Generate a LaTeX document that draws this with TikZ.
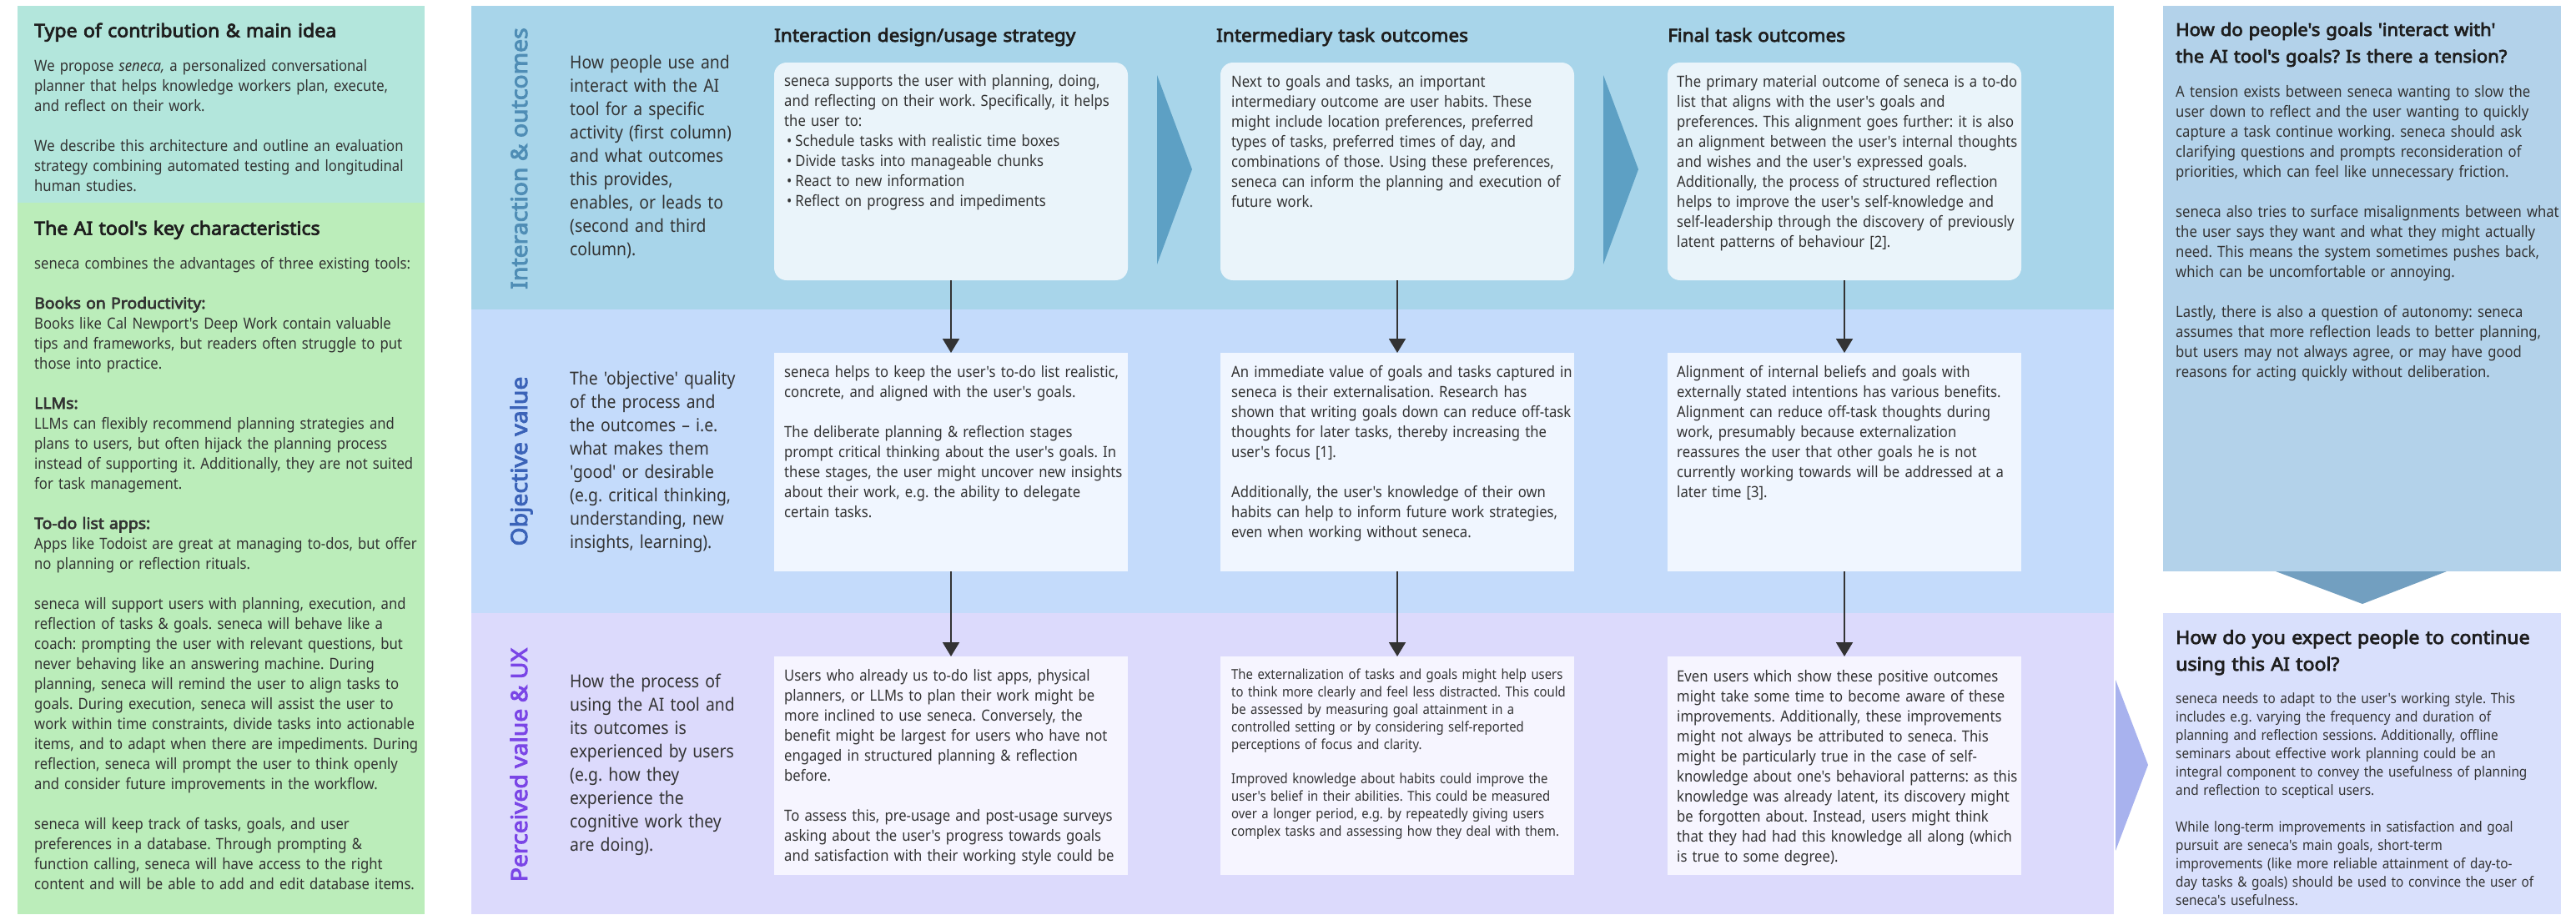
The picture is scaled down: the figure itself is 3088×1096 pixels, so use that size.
\documentclass[tikz,border=0pt]{standalone}
\usepackage{fontspec}
\usetikzlibrary{arrows.meta}
\newfontfamily\nf{Noto Sans}[FakeStretch=0.9]
\newfontfamily\nfb{Noto Sans}[FakeStretch=1.05,FakeBold=3.5]
\newcommand{\myfs}[2]{\nf\fontsize{#1}{#2}\selectfont}
\newcommand{\mybfs}[2]{\nfb\fontsize{#1}{#2}\selectfont}
\newcommand{\tb}[1]{{\nfb #1}}
\definecolor{teal1}{HTML}{B3E6DC}
\definecolor{green1}{HTML}{BBEDBA}
\definecolor{rowAc}{HTML}{A8D5EA}
\definecolor{rowBc}{HTML}{C4DBFB}
\definecolor{rowCc}{HTML}{DCDAFC}
\definecolor{boxA}{HTML}{EAF4FA}
\definecolor{boxB}{HTML}{F0F6FF}
\definecolor{boxC}{HTML}{F6F5FF}
\definecolor{chevA}{HTML}{5DA0C4}
\definecolor{chevC}{HTML}{A8B2EE}
\definecolor{rtop}{HTML}{B3D2EA}
\definecolor{chevR}{HTML}{729FC0}
\definecolor{rbot}{HTML}{D9E0FC}
\definecolor{labA}{HTML}{4F8DB5}
\definecolor{labB}{HTML}{3B63B8}
\definecolor{labC}{HTML}{7A45E6}
\definecolor{ink}{HTML}{1E1E1E}
\definecolor{txt}{HTML}{333333}
\frenchspacing
\begin{document}
\frenchspacing
\begin{tikzpicture}[x=1pt,y=-1pt,
  panel/.style={inner sep=0pt,outer sep=0pt,anchor=north west,draw=none},
  tbox/.style={panel,minimum width=424pt,minimum height=262pt},
  body/.style={anchor=base west,inner sep=0pt,align=left,text width=620pt,text=txt,font=\myfs{18.5}{24}\frenchspacing},
  desc/.style={body,font=\myfs{21.5}{28}\frenchspacing},
  small/.style={body,font=\myfs{16.5}{21}\frenchspacing},
  rbody/.style={body,font=\myfs{17}{22}\frenchspacing},
  head/.style={anchor=base west,inner sep=0pt,align=left,text width=620pt,text=ink,font=\mybfs{22}{32}\frenchspacing},
  colhead/.style={head,font=\mybfs{21.5}{30}},
  rowlab/.style={rotate=90,anchor=base,inner sep=0pt,font=\mybfs{27}{30}},
  arr/.style={draw=txt,line width=2pt,-{Triangle[length=17pt,width=20pt]}}
]
\useasboundingbox (0,0) rectangle (3088,1096);
\fill[white] (0,0) rectangle (3088,1096);

% ---------- left column ----------
\node[panel,fill=teal1,minimum width=488pt,minimum height=236pt] (ptype) at (21,7) {};
\node[panel,fill=green1,minimum width=488pt,minimum height=853pt] (pkey) at (21,243) {};

\node[head] (htype) at (41,44.5) {Type of contribution \& main idea};
\node[body] (ttype) at (41,85) {We propose \textit{seneca,} a personalized conversational\\
planner that helps knowledge workers plan, execute,\\
and reflect on their work.\\[24pt]
We describe this architecture and outline an evaluation\\
strategy combining automated testing and longitudinal\\
human studies.};

\node[head] (hkey) at (41,281.5) {The AI tool's key characteristics};
\node[body] (tkey) at (41,322) {seneca combines the advantages of three existing tools:\\[24pt]
\tb{Books on Productivity:}\\
Books like Cal Newport's Deep Work contain valuable\\
tips and frameworks, but readers often struggle to put\\
those into practice.\\[24pt]
\tb{LLMs:}\\
LLMs can flexibly recommend planning strategies and\\
plans to users, but often hijack the planning process\\
instead of supporting it. Additionally, they are not suited\\
for task management.\\[24pt]
\tb{To-do list apps:}\\
Apps like Todoist are great at managing to-dos, but offer\\
no planning or reflection rituals.\\[24pt]
seneca will support users with planning, execution, and\\
reflection of tasks \& goals. seneca will behave like a\\
coach: prompting the user with relevant questions, but\\
never behaving like an answering machine. During\\
planning, seneca will remind the user to align tasks to\\
goals. During execution, seneca will assist the user to\\
work within time constraints, divide tasks into actionable\\
items, and to adapt when there are impediments. During\\
reflection, seneca will prompt the user to think openly\\
and consider future improvements in the workflow.\\[24pt]
seneca will keep track of tasks, goals, and user\\
preferences in a database. Through prompting \&\\
function calling, seneca will have access to the right\\
content and will be able to add and edit database items.};

% ---------- middle rows ----------
\node[panel,fill=rowAc,minimum width=1969pt,minimum height=364pt] (rowA) at (565,7) {};
\node[panel,fill=rowBc,minimum width=1969pt,minimum height=364pt] (rowB) at (565,371) {};
\node[panel,fill=rowCc,minimum width=1969pt,minimum height=361pt] (rowC) at (565,735) {};

\node[rowlab,text=labA] (labA) at (632,190) {Interaction \& outcomes};
\node[rowlab,text=labB] (labB) at (632,553) {Objective value};
\node[rowlab,text=labC] (labC) at (632,917) {Perceived value \& UX};

\node[desc] (dA) at (683,82) {How people use and\\ interact with the AI\\ tool for a specific\\ activity (first column)\\ and what outcomes\\ this provides,\\ enables, or leads to\\ (second and third\\ column).};
\node[desc] (dB) at (683,461) {The 'objective' quality\\ of the process and\\ the outcomes – i.e.\\ what makes them\\ 'good' or desirable\\ (e.g. critical thinking,\\ understanding, new\\ insights, learning).};
\node[desc] (dC) at (683,824) {How the process of\\ using the AI tool and\\ its outcomes is\\ experienced by users\\ (e.g. how they\\ experience the\\ cognitive work they\\ are doing).};

\node[colhead] (c1) at (928,50) {Interaction design/usage strategy};
\node[colhead] (c2) at (1458,50) {Intermediary task outcomes};
\node[colhead] (c3) at (1999,50) {Final task outcomes};

% chevrons
\fill[chevA] (1387,90) -- (1429,203) -- (1387,317) -- cycle;
\fill[chevA] (1922,90) -- (1964,203) -- (1922,317) -- cycle;
\fill[chevC] (2536,815) -- (2575,917) -- (2536,1020) -- cycle;

% boxes
\node[tbox,fill=boxA,rounded corners=15pt,minimum height=261pt] (b11) at (928,75) {};
\node[tbox,fill=boxA,rounded corners=15pt,minimum height=261pt] (b12) at (1463,75) {};
\node[tbox,fill=boxA,rounded corners=15pt,minimum height=261pt] (b13) at (1999,75) {};
\node[tbox,fill=boxB] (b21) at (928,423) {};
\node[tbox,fill=boxB] (b22) at (1463,423) {};
\node[tbox,fill=boxB] (b23) at (1999,423) {};
\node[tbox,fill=boxC] (b31) at (928,787) {};
\node[tbox,fill=boxC] (b32) at (1463,787) {};
\node[tbox,fill=boxC] (b33) at (1999,787) {};

\draw[arr] (b11.south) -- (b21.north);
\draw[arr] (b12.south) -- (b22.north);
\draw[arr] (b13.south) -- (b23.north);
\draw[arr] (b21.south) -- (b31.north);
\draw[arr] (b22.south) -- (b32.north);
\draw[arr] (b23.south) -- (b33.north);

\node[body] (t11) at (940,103) {seneca supports the user with planning, doing,\\
and reflecting on their work. Specifically, it helps\\
the user to:\\
\hspace{3pt}•\hspace{4pt}Schedule tasks with realistic time boxes\\
\hspace{3pt}•\hspace{4pt}Divide tasks into manageable chunks\\
\hspace{3pt}•\hspace{4pt}React to new information\\
\hspace{3pt}•\hspace{4pt}Reflect on progress and impediments};

\node[body] (t12) at (1476,104) {Next to goals and tasks, an important\\
intermediary outcome are user habits. These\\
might include location preferences, preferred\\
types of tasks, preferred times of day, and\\
combinations of those. Using these preferences,\\
seneca can inform the planning and execution of\\
future work.};

\node[body] (t13) at (2010,104) {The primary material outcome of seneca is a to-do\\
list that aligns with the user's goals and\\
preferences. This alignment goes further: it is also\\
an alignment between the user's internal thoughts\\
and wishes and the user's expressed goals.\\
Additionally, the process of structured reflection\\
helps to improve the user's self-knowledge and\\
self-leadership through the discovery of previously\\
latent patterns of behaviour [2].};

\node[body] (t21) at (940,452) {seneca helps to keep the user's to-do list realistic,\\
concrete, and aligned with the user's goals.\\[24pt]
The deliberate planning \& reflection stages\\
prompt critical thinking about the user's goals. In\\
these stages, the user might uncover new insights\\
about their work, e.g. the ability to delegate\\
certain tasks.};

\node[body] (t22) at (1476,452) {An immediate value of goals and tasks captured in\\
seneca is their externalisation. Research has\\
shown that writing goals down can reduce off-task\\
thoughts for later tasks, thereby increasing the\\
user's focus [1].\\[24pt]
Additionally, the user's knowledge of their own\\
habits can help to inform future work strategies,\\
even when working without seneca.};

\node[body] (t23) at (2010,452) {Alignment of internal beliefs and goals with\\
externally stated intentions has various benefits.\\
Alignment can reduce off-task thoughts during\\
work, presumably because externalization\\
reassures the user that other goals he is not\\
currently working towards will be addressed at a\\
later time [3].};

\node[body] (t31) at (940,816) {Users who already us to-do list apps, physical\\
planners, or LLMs to plan their work might be\\
more inclined to use seneca. Conversely, the\\
benefit might be largest for users who have not\\
engaged in structured planning \& reflection\\
before.\\[24pt]
To assess this, pre-usage and post-usage surveys\\
asking about the user's progress towards goals\\
and satisfaction with their working style could be};

\node[small] (t32) at (1476,814) {The externalization of tasks and goals might help users\\
to think more clearly and feel less distracted. This could\\
be assessed by measuring goal attainment in a\\
controlled setting or by considering self-reported\\
perceptions of focus and clarity.\\[20pt]
Improved knowledge about habits could improve the\\
user's belief in their abilities. This could be measured\\
over a longer period, e.g. by repeatedly giving users\\
complex tasks and assessing how they deal with them.};

\node[body] (t33) at (2010,817) {Even users which show these positive outcomes\\
might take some time to become aware of these\\
improvements. Additionally, these improvements\\
might not always be attributed to seneca. This\\
might be particularly true in the case of self-\\
knowledge about one's behavioral patterns: as this\\
knowledge was already latent, its discovery might\\
be forgotten about. Instead, users might think\\
that they had had this knowledge all along (which\\
is true to some degree).};

% ---------- right column ----------
\node[panel,fill=rtop,minimum width=477pt,minimum height=678pt] (ptension) at (2593,7) {};
\node[panel,fill=rbot,minimum width=477pt,minimum height=361pt] (pcontinue) at (2593,735) {};
\fill[chevR] (2728,685) -- (2933,685) -- (2832,724) -- cycle;

\node[head,font=\mybfs{21}{32}] (htension) at (2608,43) {How do people's goals 'interact with'\\ the AI tool's goals? Is there a tension?};
\node[body] (ttension) at (2608,116) {A tension exists between seneca wanting to slow the\\
user down to reflect and the user wanting to quickly\\
capture a task continue working. seneca should ask\\
clarifying questions and prompts reconsideration of\\
priorities, which can feel like unnecessary friction.\\[24pt]
seneca also tries to surface misalignments between what\\
the user says they want and what they might actually\\
need. This means the system sometimes pushes back,\\
which can be uncomfortable or annoying.\\[24pt]
Lastly, there is also a question of autonomy: seneca\\
assumes that more reflection leads to better planning,\\
but users may not always agree, or may have good\\
reasons for acting quickly without deliberation.};

\node[head] (hcontinue) at (2608,772) {How do you expect people to continue\\ using this AI tool?};
\node[rbody] (tcontinue) at (2608,843) {seneca needs to adapt to the user's working style. This\\
includes e.g. varying the frequency and duration of\\
planning and reflection sessions. Additionally, offline\\
seminars about effective work planning could be an\\
integral component to convey the usefulness of planning\\
and reflection to sceptical users.\\[22pt]
While long-term improvements in satisfaction and goal\\
pursuit are seneca's main goals, short-term\\
improvements (like more reliable attainment of day-to-\\
day tasks \& goals) should be used to convince the user of\\
seneca's usefulness.};
\end{tikzpicture}
\end{document}
